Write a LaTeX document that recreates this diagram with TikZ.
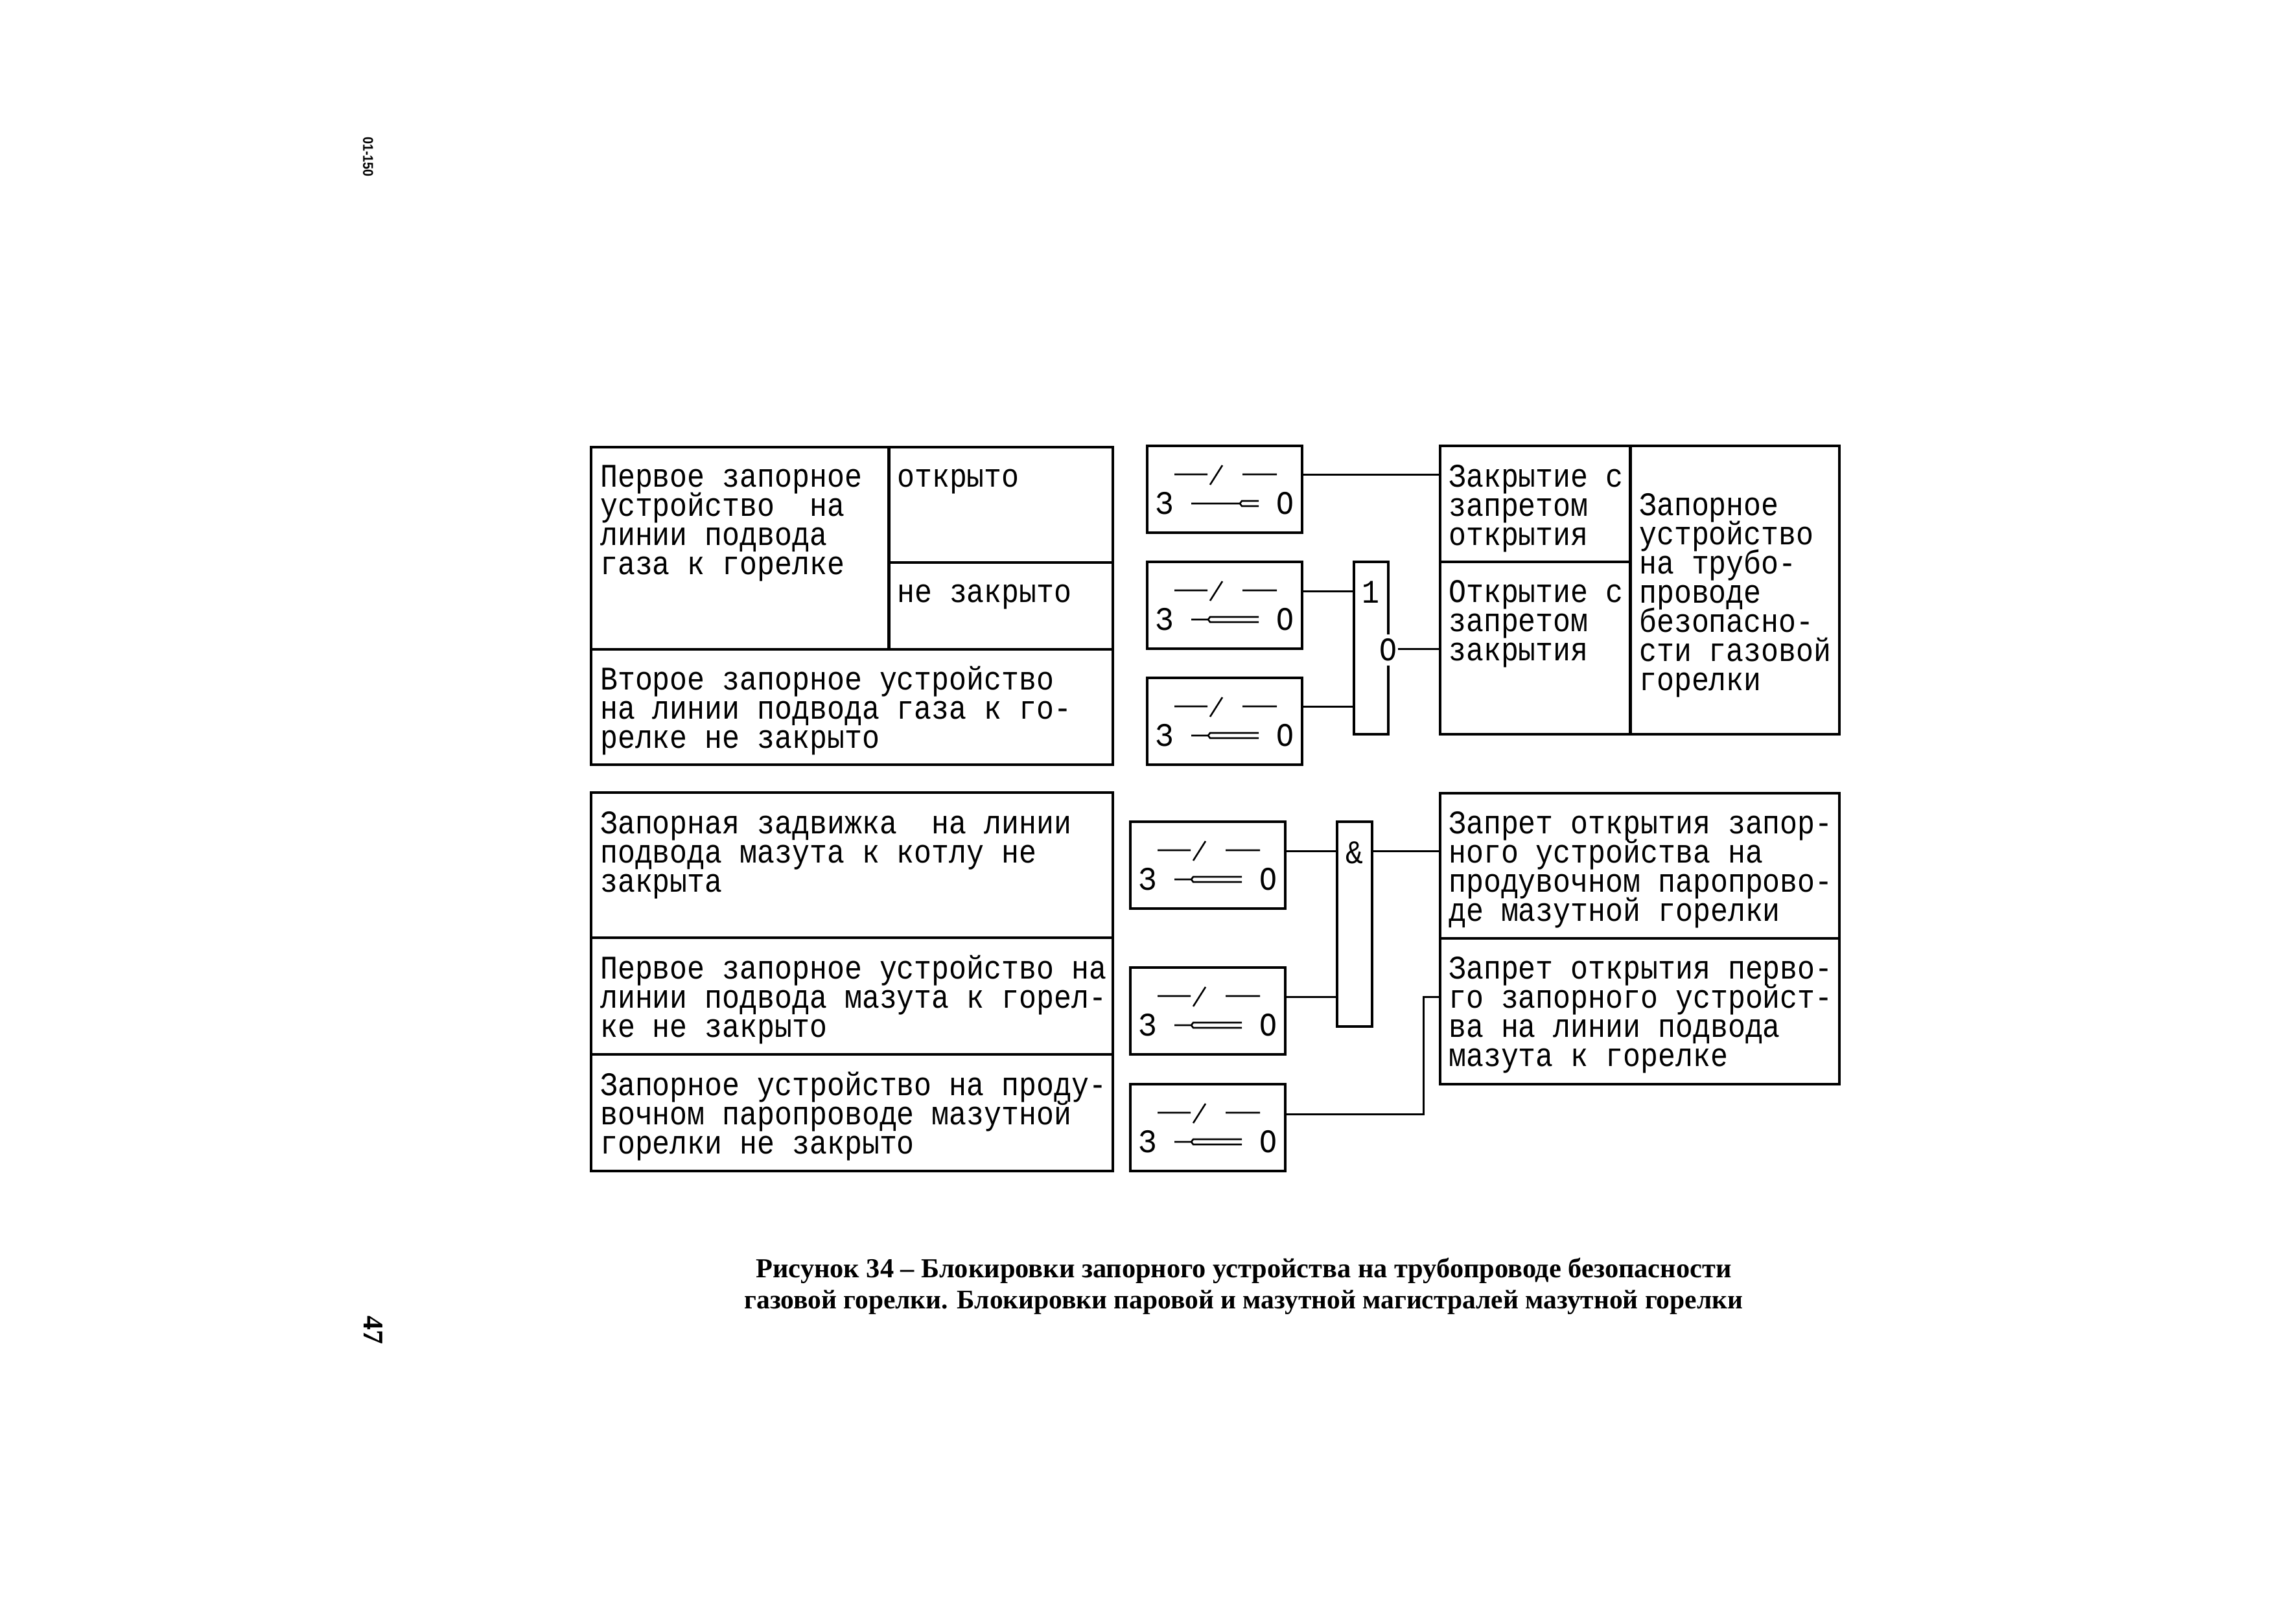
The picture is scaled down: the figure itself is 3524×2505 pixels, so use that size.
\documentclass[tikz,border=0pt]{standalone}
\usepackage{fontspec}
\setmainfont{Liberation Serif}
\newfontfamily\diagfont[FakeStretch=0.88]{Liberation Mono}
\newfontfamily\smallfont[FakeStretch=0.9]{Liberation Sans}
\AtBeginDocument{\lineskiplimit=-100pt \normallineskiplimit=-100pt }
% #1 name, #2 x, #3 y, #4 where the double line starts (offset from the box's left side)
\newcommand{\swbox}[4]{%
  \node[blk,anchor=north west,minimum width=239pt,minimum height=134pt] (#1) at (#2,#3) {};
  \node[sym,anchor=center] (#1-z) at ([shift={(27pt,-89pt)}]#1.north west) {З};
  \node[sym,anchor=center] (#1-o) at ([shift={(213pt,-89pt)}]#1.north west) {О};
  \coordinate (#1-a) at ([shift={(42pt,-44pt)}]#1.north west);
  \coordinate (#1-b) at ([shift={(93pt,-44pt)}]#1.north west);
  \coordinate (#1-c) at ([shift={(97pt,-60pt)}]#1.north west);
  \coordinate (#1-d) at ([shift={(116pt,-30pt)}]#1.north west);
  \coordinate (#1-e) at ([shift={(147pt,-44pt)}]#1.north west);
  \coordinate (#1-f) at ([shift={(200pt,-44pt)}]#1.north west);
  \draw[thin line] (#1-a) -- (#1-b) (#1-c) -- (#1-d) (#1-e) -- (#1-f);
  \coordinate (#1-g) at ([shift={(68pt,-89pt)}]#1.north west);
  \coordinate (#1-h) at ([shift={(#4pt,-89pt)}]#1.north west);
  \coordinate (#1-i) at ([shift={(#4pt+3pt,-85pt)}]#1.north west);
  \coordinate (#1-j) at ([shift={(172pt,-85pt)}]#1.north west);
  \coordinate (#1-k) at ([shift={(#4pt+3pt,-93pt)}]#1.north west);
  \coordinate (#1-l) at ([shift={(172pt,-93pt)}]#1.north west);
  \draw[thin line] (#1-g) -- (#1-h) -- (#1-i) -- (#1-j) (#1-h) -- (#1-k) -- (#1-l);
}
\tikzset{
  blk/.style={draw=black,line width=3.2pt,inner sep=0pt,outer sep=0pt,rectangle},
  sym/.style={font=\diagfont\fontsize{51}{45}\selectfont,inner sep=0pt},
  txt/.style={font=\diagfont\fontsize{51}{45}\selectfont,inner sep=0pt,align=left,anchor=north west},
  thin line/.style={line width=2.6pt,line join=miter},
  conn/.style={line width=3pt},
  captext/.style={font=\bfseries,inner sep=0pt,anchor=base},
}
\begin{document}
\begin{tikzpicture}[x=1pt,y=-1pt]
\useasboundingbox (0,0) rectangle (3524,2505);
\fill[white] (0,0) rectangle (3524,2505);
% --- left block, top
\node[blk,anchor=north west,minimum width=460pt,minimum height=312pt] (l1) at (912,690) {};
\node[blk,anchor=north west,minimum width=346pt,minimum height=178pt] (l1a) at (1371,690) {};
\node[blk,anchor=north west,minimum width=346pt,minimum height=134pt] (l1b) at (1371,868) {};
\node[blk,anchor=north west,minimum width=805pt,minimum height=178pt] (l2) at (912,1002) {};
\node[txt] (t1) at (926,711) {\rule{0pt}{40pt}Первое запорное\\устройство~ на\\линии подвода\\газа к горелке};
\node[txt] (t1a) at (1384,711) {\rule{0pt}{40pt}открыто};
\node[txt] (t1b) at (1384,889) {\rule{0pt}{40pt}не закрыто};
\node[txt] (t2) at (926,1024) {\rule{0pt}{40pt}Второе запорное устройство\\на линии подвода газа к го-\\релке не закрыто};
% --- left block, bottom
\node[blk,anchor=north west,minimum width=805pt,minimum height=224pt] (l3) at (912,1223) {};
\node[blk,anchor=north west,minimum width=805pt,minimum height=180pt] (l4) at (912,1447) {};
\node[blk,anchor=north west,minimum width=805pt,minimum height=180pt] (l5) at (912,1627) {};
\node[txt] (t3) at (926,1246) {\rule{0pt}{40pt}Запорная задвижка~ на линии\\подвода мазута к котлу не\\закрыта};
\node[txt] (t4) at (926,1470) {\rule{0pt}{40pt}Первое запорное устройство на\\линии подвода мазута к горел-\\ке не закрыто};
\node[txt] (t5) at (926,1650) {\rule{0pt}{40pt}Запорное устройство на проду-\\вочном паропроводе мазутной\\горелки не закрыто};
% --- switches
\swbox{s1}{1770}{688}{143}
\swbox{s2}{1770}{867}{94}
\swbox{s3}{1770}{1046}{94}
\swbox{s4}{1744}{1268}{94}
\swbox{s5}{1744}{1493}{94}
\swbox{s6}{1744}{1673}{94}
% --- OR gate with the zero on its side
\node[blk,anchor=north west,minimum width=53pt,minimum height=266pt] (g1) at (2089,867) {};
\node[sym,anchor=center] (g1t) at (2115,914) {1};
\node[sym,anchor=center,fill=white,inner ysep=7pt,inner xsep=1pt] (g1o) at (2142,1003) {О};
% --- AND gate
\node[blk,anchor=north west,minimum width=54pt,minimum height=316pt] (g2) at (2063,1268) {};
\node[sym,anchor=center] (g2t) at (2090,1316) {\&};
% --- right block
\node[blk,anchor=north west,minimum width=294pt,minimum height=179pt] (r1) at (2222,688) {};
\node[blk,anchor=north west,minimum width=294pt,minimum height=266pt] (r2) at (2222,867) {};
\node[blk,anchor=north west,minimum width=323pt,minimum height=445pt] (r3) at (2515,688) {};
\node[txt] (t6) at (2235,711) {\rule{0pt}{40pt}Закрытие с\\запретом\\открытия};
\node[txt] (t7) at (2235,889) {\rule{0pt}{40pt}Открытие с\\запретом\\закрытия};
\node[txt] (t8) at (2529,755) {\rule{0pt}{40pt}Запорное\\устройство\\на трубо-\\проводе\\безопасно-\\сти газовой\\горелки};
\node[blk,anchor=north west,minimum width=616pt,minimum height=224pt] (r4) at (2222,1224) {};
\node[blk,anchor=north west,minimum width=616pt,minimum height=225pt] (r5) at (2222,1448) {};
\node[txt] (t9) at (2235,1246) {\rule{0pt}{40pt}Запрет открытия запор-\\ного устройства на\\продувочном паропрово-\\де мазутной горелки};
\node[txt] (t10) at (2235,1470) {\rule{0pt}{40pt}Запрет открытия перво-\\го запорного устройст-\\ва на линии подвода\\мазута к горелке};
% --- connectors
\coordinate (c1) at (s1.east |- 0,732);
\coordinate (c2) at (r1.west |- 0,732);
\draw[conn] (c1) -- (c2);
\draw[conn] (s2.east |- 0,912) -- (g1.west |- 0,912);
\draw[conn] (s3.east |- 0,1090) -- (g1.west |- 0,1090);
\draw[conn] (g1o.east |- 0,1001) -- (r2.west |- 0,1001);
\draw[conn] (s4.east |- 0,1313) -- (g2.west |- 0,1313);
\draw[conn] (s5.east |- 0,1538) -- (g2.west |- 0,1538);
\draw[conn] (g2.east |- 0,1313) -- (r4.west |- 0,1313);
\coordinate (k1) at (2196,1719);
\coordinate (k2) at (2196,1538);
\draw[conn] (s6.east |- k1) -- (k1) -- (k2) -- (r5.west |- k2);
% --- caption
\node[captext] (cap1) at (1919,1971) {\fontsize{42.4}{42.4}\selectfont Рисунок 34 – Блокировки запорного устройства на трубопроводе безопасности};
\node[captext] (cap2) at (1919,2019) {\fontsize{41.5}{41.5}\selectfont газовой горелки. Блокировки паровой и мазутной магистралей мазутной горелки};
% --- margin marks
\node[font=\smallfont\bfseries\fontsize{22}{22}\selectfont,rotate=-90,inner sep=0pt] (m1) at (568,242) {01-150};
\node[font=\bfseries\fontsize{44}{44}\selectfont,rotate=-90,inner sep=0pt] (m2) at (576,2052) {47};
\end{tikzpicture}
\end{document}
